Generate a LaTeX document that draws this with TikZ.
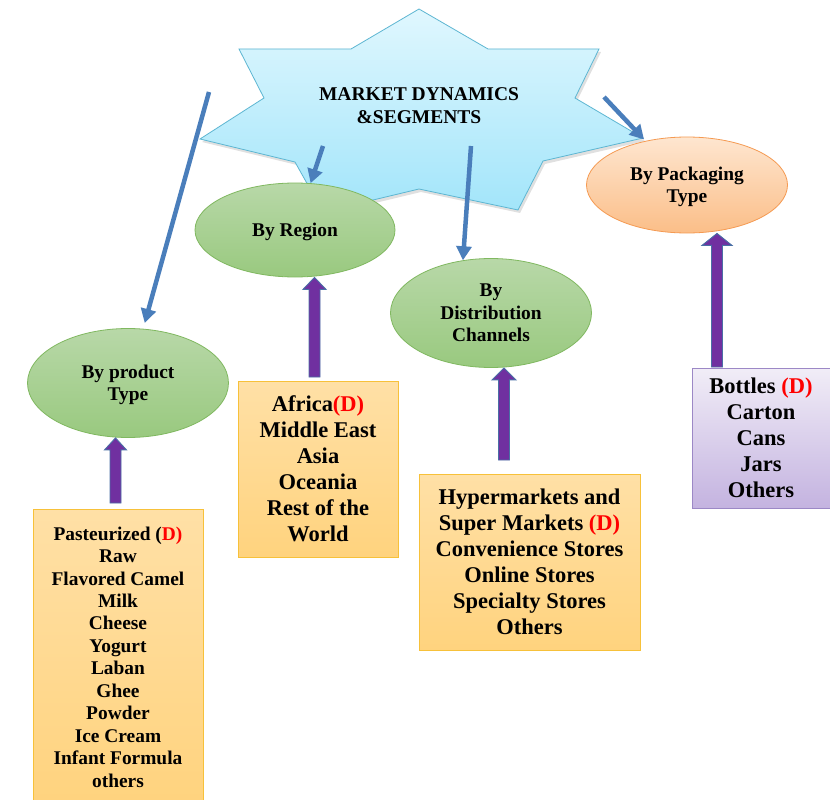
\documentclass[tikz,border=0pt]{standalone}
\usepackage{fontspec}
\setmainfont{Liberation Serif}
\usetikzlibrary{arrows.meta,shapes.geometric,calc}
\definecolor{starT}{HTML}{E0F7FE}
\definecolor{starB}{HTML}{A2E5FA}
\definecolor{starL}{HTML}{5DB6D2}
\definecolor{grnT}{HTML}{B8D8A8}
\definecolor{grnB}{HTML}{99C97F}
\definecolor{grnL}{HTML}{80B860}
\definecolor{orT}{HTML}{FEE6D0}
\definecolor{orB}{HTML}{FBBE88}
\definecolor{orL}{HTML}{F59A52}
\definecolor{gdT}{HTML}{FFE0A6}
\definecolor{gdB}{HTML}{FFD37E}
\definecolor{gdL}{HTML}{F7C13A}
\definecolor{puT}{HTML}{F1EDF7}
\definecolor{puB}{HTML}{C4B3E0}
\definecolor{puL}{HTML}{9C88C6}
\definecolor{bluA}{HTML}{4A7EBB}
\definecolor{purA}{HTML}{7030A0}
\definecolor{purL}{HTML}{4A6FA5}
\newcommand{\blkarrow}[3]{%
  \draw[blk] let \p1=(#1), \p2=(#2) in
    (\x1-5.5pt,\y1) -- (\x1-5.5pt,\y2-12pt) -- (\x1-#3,\y2-12pt) -- (\x1,\y2)
    -- (\x1+#3,\y2-12pt) -- (\x1+5.5pt,\y2-12pt) -- (\x1+5.5pt,\y1) -- cycle;}
\begin{document}
\begin{tikzpicture}[x=1pt,y=-1pt,
  ell/.style={ellipse, line width=0.8pt, inner sep=0pt, align=center, text depth=0pt,
    font=\fontsize{19.4}{22.5}\selectfont\bfseries},
  greenell/.style={ell, draw=grnL, top color=grnT, bottom color=grnB},
  orangeell/.style={ell, draw=orL, top color=orT, bottom color=orB},
  boxbase/.style={rectangle, line width=0.8pt, inner sep=0pt, align=center,
    font=\fontsize{22.5}{26}\selectfont\bfseries},
  goldbox/.style={boxbase, draw=gdL, top color=gdT, bottom color=gdB},
  purplebox/.style={boxbase, draw=puL, top color=puT, bottom color=puB},
  bluearrow/.style={draw=bluA, line width=4.5pt, -{Triangle[length=14pt,width=15pt]}},
  blk/.style={draw=purL, line width=0.9pt, fill=purA},
  startext/.style={inner sep=0pt, align=center, font=\fontsize{19.5}{23}\selectfont\bfseries}
]
\useasboundingbox (0,0) rectangle (830,800);
\clip (0,0) rectangle (830,800);
\fill[white] (0,0) rectangle (830,800);

% star shadow and star
\fill[black, opacity=0.12, shift={(2pt,-3pt)}]
  (419,9) -- (488,49) -- (599,49) -- (575,98) -- (643,138) -- (543,161) -- (518,210)
  -- (419,189) -- (323,212) -- (295,162) -- (200,139) -- (264,98) -- (239,49) -- (351,49) -- cycle;
\path[draw=starL, line width=0.8pt, top color=starT, bottom color=starB]
  (419,9) -- (488,49) -- (599,49) -- (575,98) -- (643,138) -- (543,161) -- (518,210)
  -- (419,189) -- (323,212) -- (295,162) -- (200,139) -- (264,98) -- (239,49) -- (351,49) -- cycle;
\node[startext] (star) at (419,106) {MARKET DYNAMICS\\\&SEGMENTS};

% category ellipses
\node[greenell, minimum width=201, minimum height=109] (prod) at (128,383) {By product\\Type};
\node[greenell, minimum width=200, minimum height=94] (reg) at (295,230) {By Region};
\node[greenell, minimum width=201, minimum height=109] (dist) at (491,313) {By\\Distribution\\Channels};
\node[orangeell, minimum width=201, minimum height=96] (pack) at (687,185) {By Packaging\\Type};

% blue arrows from the star
\coordinate (s1) at (209,92);
\coordinate (s2) at (323,146);
\coordinate (s3) at (471,146);
\coordinate (s4) at (604,97);
\draw[bluearrow, shorten >=6pt] (s1) -- (prod);
\draw[bluearrow] (s2) -- (reg);
\draw[bluearrow] (s3) -- (dist.118);
\draw[bluearrow, shorten >=2pt] (s4) -- (pack);

% lists
\node[goldbox, minimum width=170, minimum height=296,
  font=\fontsize{19.4}{22.45}\selectfont\bfseries] (prodbox) at (118,657)
  {Pasteurized (\textcolor{red}{D)}\\Raw\\Flavored Camel\\Milk\\Cheese\\Yogurt\\Laban\\Ghee\\Powder\\Ice Cream\\Infant Formula\\others};
\node[goldbox, minimum width=160, minimum height=176] (regbox) at (318,469)
  {Africa\textcolor{red}{(D)}\\Middle East\\Asia\\Oceania\\Rest of the\\World};
\node[goldbox, minimum width=221, minimum height=176] (distbox) at (529.5,562)
  {Hypermarkets and\\Super Markets \textcolor{red}{(D)}\\Convenience Stores\\Online Stores\\Specialty Stores\\Others};
\node[purplebox, minimum width=138, minimum height=140, text depth=0pt] (packbox) at (761,438)
  {Bottles \textcolor{red}{(D)}\\Carton\\Cans\\Jars\\Others};

% purple block arrows
\coordinate (p1) at (115.5,503);
\coordinate (p2) at (314.5,377);
\coordinate (p3) at (504,460);
\coordinate (p4) at (717,367);
\blkarrow{p1}{p1 |- prod.south}{11pt}
\blkarrow{p2}{p2 |- reg.south}{11.5pt}
\blkarrow{p3}{p3 |- dist.south}{12pt}
\blkarrow{p4}{p4 |- pack.south}{15pt}
\end{tikzpicture}
\end{document}
